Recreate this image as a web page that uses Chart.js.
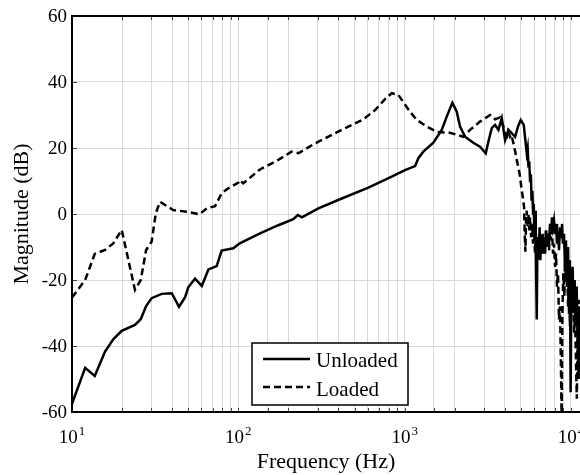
<!DOCTYPE html>
<html>
<head>
<meta charset="utf-8">
<script src="https://cdn.jsdelivr.net/npm/chart.js@4"></script>
<style>
  html, body { margin: 0; padding: 0; background: #fff; overflow: hidden; }
  #chart-1 { display: block; }
</style>
</head>
<body>
<canvas id="chart-1" width="580" height="475"></canvas>
<script>
// frequency response, Hz vs dB
const unloadedFreq = [10, 12.0, 13.7, 15.8, 17.7, 19.9, 23.9, 25.9, 27.9, 30.1, 34.6, 39.8, 44.0, 47.8, 50.0, 54.9, 60.3, 66.1, 74.1, 79.4, 93.3,
  102, 135, 174, 214, 228, 241, 303, 419, 605, 836, 1005, 1155, 1209, 1295, 1488, 1671, 1790, 1936, 2057, 2153, 2307, 2588, 2838,
  3073, 3186, 3339, 3497, 3659, 3836, 4017, 4207, 4400, 4615, 4800, 4990, 5200, 5421, 5490, 5555, 5610, 5675, 5740, 5794, 5860,
  5916, 5975, 6020, 6083, 6140, 6180, 6226, 6270, 6340, 6410, 6475, 6545, 6610, 6680, 6750, 6825, 6887, 6985, 7080, 7180, 7278,
  7380, 7482, 7585, 7692, 7800, 7907, 8020, 8130, 8240, 8356, 8470, 8590, 8710, 8830, 8950, 9080, 9210, 9330, 9460, 9600, 9730,
  9855, 9950, 10070, 10230, 10370, 10520, 10670, 10820, 10970, 11120, 11250, 11350];
const unloadedMag = [-57.5, -46.6, -49.1, -41.7, -38.0, -35.4, -33.6, -31.9, -27.9, -25.5, -24.2, -24.0, -28.1, -25.3, -22.2, -19.6, -21.8, -16.8, -15.8, -11.1, -10.4,
  -8.9, -5.9, -3.4, -1.6, -0.3, -1.0, 1.7, 4.7, 8.0, 11.3, 13.3, 14.5, 16.9, 18.9, 21.6, 25.5, 29.5, 33.7, 31.0, 26.5, 23.4, 21.6, 20.4,
  18.4, 21.9, 26.0, 27.0, 25.5, 29.0, 22.4, 25.5, 24.5, 23.4, 26.5, 28.5, 27.0, 18.4, 20, 14, 16, 10, 12, 4, 7,
  0, 3, -6, 1, -9, -20, -32, -14, -7, -12, -4, -14, -8, -12, -6, -11, -7, -12, -5, -10, -6,
  -9, -3, -6, -1, -4, -2, -6, -3, -9, -5, -11, -4, -7, -3, -9, -6, -16, -8, -22, -10, -30,
  -14, -54, -22, -16, -30, -20, -34, -22, -40, -50, -28, -42];

const loadedFreq = [10, 12.0, 13.7, 15.8, 17.7, 19.9, 23.9, 25.9, 27.9, 30.1, 31.9, 33.8, 40.6, 48.9, 58.3, 64.6, 72.5, 79.4, 87.1, 100,
  102, 107, 135, 174, 209, 230, 289, 419, 565, 664, 762, 836, 916, 1077, 1183, 1358, 1560, 1875, 2254, 2472, 2838, 3266, 3497,
  3749, 3836, 3925, 4017, 4110, 4187, 4304, 4390, 4506, 4615, 4721, 4830, 4944, 5030, 5130, 5224, 5270, 5320, 5370, 5421, 5490,
  5555, 5625, 5675, 5760, 5835, 5916, 5998, 6083, 6166, 6250, 6340, 6430, 6519, 6610, 6700, 6790, 6887, 6985, 7080, 7180, 7278,
  7380, 7482, 7585, 7692, 7800, 7907, 8020, 8130, 8240, 8356, 8470, 8590, 8695, 8790, 8880, 8995, 9130, 9210, 9330, 9490, 9600,
  9730, 9855, 9990, 10150, 10300, 10450, 10580, 10720, 10840, 10970, 11120, 11250, 11350];
const loadedMag = [-25.3, -20.0, -12.1, -10.9, -8.9, -4.8, -23.0, -20.0, -10.9, -8.4, 0.2, 3.7, 1.2, 0.7, -0.1, 1.7, 2.4, 6.3, 7.8, 9.5,
  10.3, 9.3, 13.5, 16.4, 18.9, 18.4, 21.4, 25.5, 28.7, 31.5, 34.8, 36.6, 36.1, 31.0, 28.5, 26.5, 24.9, 24.6, 23.4, 25.5, 28.0, 30.0, 28.7,
  29.3, 28.0, 26.5, 24, 23.4, 25, 23.4, 24, 21.4, 19, 16.4, 14, 11.3, 8, 5.2, 2, -6, -11.4, -2, 1, -4,
  0, -5, -1, -7, -3, -9, -5, -12, -6, -13, -8, -14, -7, -11, -6, -12, -7, -10, -5, -9, -6,
  -11, -4, -8, -5, -12, -9, -16, -12, -22, -18, -32, -28, -45, -62, -30, -18, -25, -14, -20, -16, -28,
  -22, -34, -18, -26, -22, -36, -30, -45, -56, -36, -26, -40, -34];

const seriesNames = ["Unloaded", "Loaded"];
const yTicks = [60, 40, 20, 0, -20, -40, -60];
const decades = [10, 100, 1000, 10000];
const decadeExp = ["1", "2", "3", "4"];

const serif = "'Liberation Serif', 'Times New Roman', serif";

function toPoints(xs, ys) {
  return xs.map((x, i) => ({ x: x, y: ys[i] }));
}

// box, tick labels, axis titles and legend, matlab style
const axesDecor = {
  id: "axesDecor",
  afterDraw(chart) {
    const ctx = chart.ctx;
    const a = chart.chartArea;
    const xs = chart.scales.x;
    const ys = chart.scales.y;
    ctx.save();

    // short inward ticks
    ctx.strokeStyle = "#444";
    ctx.lineWidth = 1;
    ctx.beginPath();
    xs.ticks.forEach(t => {
      const px = Math.round(xs.getPixelForValue(t.value)) + 0.5;
      ctx.moveTo(px, a.bottom); ctx.lineTo(px, a.bottom - 4);
      ctx.moveTo(px, a.top); ctx.lineTo(px, a.top + 4);
    });
    yTicks.forEach(v => {
      const py = Math.round(ys.getPixelForValue(v)) + 0.5;
      ctx.moveTo(a.left, py); ctx.lineTo(a.left + 5, py);
    });
    ctx.stroke();

    ctx.strokeStyle = "#000";
    ctx.lineWidth = 2;
    ctx.beginPath();
    ctx.moveTo(a.right + 2, a.top);
    ctx.lineTo(a.left, a.top);
    ctx.lineTo(a.left, a.bottom);
    ctx.lineTo(a.right + 2, a.bottom);
    ctx.stroke();

    ctx.fillStyle = "#000";
    ctx.font = "19px " + serif;
    ctx.textAlign = "right";
    ctx.textBaseline = "middle";
    yTicks.forEach(v => ctx.fillText(String(v), a.left - 5, ys.getPixelForValue(v) + 1));

    ctx.textAlign = "left";
    ctx.textBaseline = "alphabetic";
    decades.forEach((d, i) => {
      const px = xs.getPixelForValue(d);
      ctx.font = "19px " + serif;
      const w1 = ctx.measureText("10").width;
      ctx.font = "13px " + serif;
      const w2 = ctx.measureText(decadeExp[i]).width;
      const x0 = px - (w1 + 1 + w2) / 2;
      ctx.font = "19px " + serif;
      ctx.fillText("10", x0, 443);
      ctx.font = "13px " + serif;
      ctx.fillText(decadeExp[i], x0 + w1 + 1, 435);
    });

    ctx.font = "22px " + serif;
    ctx.textAlign = "center";
    ctx.fillText("Frequency (Hz)", (a.left + a.right) / 2, 468);
    ctx.save();
    ctx.translate(28, (a.top + a.bottom) / 2);
    ctx.rotate(-Math.PI / 2);
    ctx.fillText("Magnitude (dB)", 0, 0);
    ctx.restore();

    // legend
    ctx.fillStyle = "#fff";
    ctx.fillRect(252, 343, 156, 62);
    ctx.strokeStyle = "#000";
    ctx.lineWidth = 1.5;
    ctx.strokeRect(252, 343, 156, 62);
    ctx.lineWidth = 2.5;
    ctx.beginPath();
    ctx.moveTo(263, 359); ctx.lineTo(310, 359);
    ctx.stroke();
    ctx.setLineDash([7, 4]);
    ctx.beginPath();
    ctx.moveTo(263, 387); ctx.lineTo(310, 387);
    ctx.stroke();
    ctx.setLineDash([]);
    ctx.fillStyle = "#000";
    ctx.font = "21px " + serif;
    ctx.textAlign = "left";
    ctx.fillText(seriesNames[0], 316, 367);
    ctx.fillText(seriesNames[1], 316, 396);
    ctx.restore();
  }
};

new Chart("chart-1", {
  type: "line",
  data: {
    datasets: [{
      label: seriesNames[0],
      data: toPoints(unloadedFreq, unloadedMag),
      borderColor: "#000",
      borderWidth: 2.5,
      fill: false
    }, {
      label: seriesNames[1],
      data: toPoints(loadedFreq, loadedMag),
      borderColor: "#000",
      borderWidth: 2.5,
      borderDash: [7, 4],
      fill: false
    }]
  },
  options: {
    responsive: false,
    animation: false,
    events: [],
    layout: { padding: { left: 72, top: 16, right: 0, bottom: 63 } },
    elements: { point: { radius: 0 }, line: { tension: 0 } },
    scales: {
      x: {
        type: "logarithmic",
        min: 10,
        max: 11330,
        ticks: { display: false },
        border: { display: false },
        grid: { color: "#d9d9d9", drawTicks: false },
        afterBuildTicks: scale => {
          scale.ticks = scale.ticks.filter(t => t.value <= 10000);
        }
      },
      y: {
        min: -60,
        max: 60,
        ticks: { display: false, stepSize: 20 },
        border: { display: false },
        grid: { color: "#d9d9d9", drawTicks: false }
      }
    },
    plugins: {
      legend: { display: false },
      tooltip: { enabled: false }
    }
  },
  plugins: [axesDecor]
});
</script>
</body>
</html>
